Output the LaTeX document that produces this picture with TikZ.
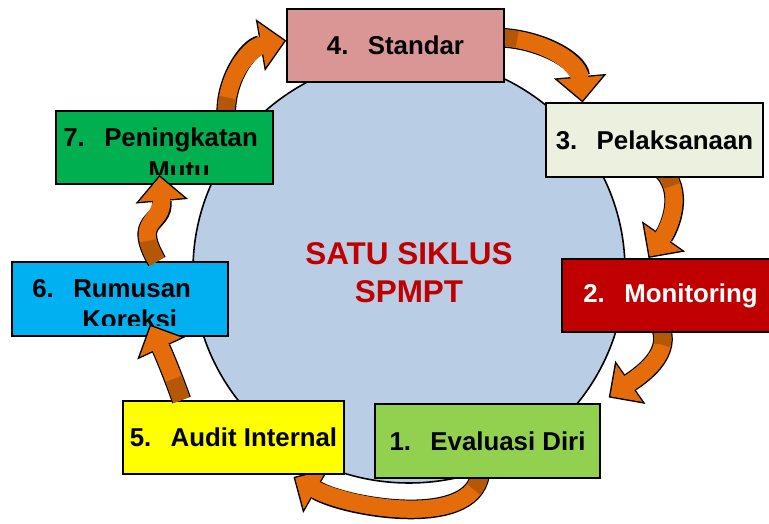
\documentclass[tikz,border=0pt]{standalone}
\usepackage{fontspec}
\setmainfont{Liberation Sans}
\usetikzlibrary{arrows.meta,calc}
\definecolor{ringblue}{HTML}{B9CDE5}
\definecolor{arrorange}{HTML}{E46C0A}
\definecolor{arrdark}{HTML}{B65708}
\definecolor{stdpink}{HTML}{D99694}
\definecolor{pelgreen}{HTML}{EBF1DE}
\definecolor{monred}{HTML}{C00000}
\definecolor{evalgreen}{HTML}{92D050}
\definecolor{audyellow}{HTML}{FFFF00}
\definecolor{rumblue}{HTML}{00B0F0}
\definecolor{pengreen}{HTML}{00B050}
\pgfdeclarelayer{ring}
\pgfdeclarelayer{flows}
\pgfsetlayers{ring,flows,main}
\tikzset{
	boxtext/.style={inner sep=0pt, font=\fontsize{14.7}{18}\selectfont\bfseries},
	stage/.style={boxtext, draw=black, line width=0.9pt, minimum height=1.47cm},
	flow/.style={draw=black, line width=11.2pt, -{Triangle[length=15pt,width=30pt,line width=0pt]},
		postaction={draw=arrorange, line width=9.6pt, -{Triangle[length=13.1pt,width=26.1pt,line width=0pt]}, shorten >=1.13pt},
		postaction={draw=arrorange, line width=9.6pt, arrows=-, shorten >=11.2pt},
		postaction={draw=arrdark, line width=9.6pt, arrows=-, dash pattern=on 0.45cm off 50cm}}
}
\begin{document}
\begin{tikzpicture}[x=0.02cm, y=-0.02cm]
	\useasboundingbox (0,0) rectangle (769,524);
	\begin{pgfonlayer}{ring}
	\draw[fill=ringblue, line width=0.9pt] (409,270) ellipse (216 and 213);
	\end{pgfonlayer}
	\node[text=monred, font=\fontsize{17.9}{21.5}\selectfont\bfseries, align=center] (title) at (409,273) {SATU SIKLUS\\SPMPT};
	\node[stage, fill=stdpink, minimum width=4.34cm] (std) at (395.5,45.5) {4.\hspace{.75em}Standar};
	\node[stage, fill=pelgreen, minimum width=4.34cm] (pel) at (654.5,140) {3.\hspace{.75em}Pelaksanaan};
	\node[stage, fill=monred, text=white, minimum width=4.34cm] (mon) at (670.5,295.5) {2.\hspace{.75em}Monitoring};
	\node[stage, fill=evalgreen, minimum width=4.5cm] (eval) at (487.5,441) {1.\hspace{.75em}Evaluasi Diri};
	\node[stage, fill=audyellow, minimum width=4.42cm] (aud) at (233.5,437.5) {5.\hspace{.75em}Audit Internal};
	\node[stage, fill=rumblue, minimum width=4.32cm] (rum) at (120,299) {};
	\node[stage, fill=pengreen, minimum width=4.34cm] (pen) at (164.5,147.5) {};
	\begin{scope}
		\clip (12,262) rectangle (228,325);
		\node[boxtext, anchor=base west] (rum1) at (32,297) {6.\hspace{.75em}Rumusan};
		\node[boxtext, anchor=base west] (rum2) at (82,328) {Koreksi};
	\end{scope}
	\begin{scope}
		\clip (56,111) rectangle (273,174);
		\node[boxtext, anchor=base west] (pen1) at (63,147) {7.\hspace{.75em}Peningkatan};
		\node[boxtext, anchor=base west] (pen2) at (148,179) {Mutu};
	\end{scope}
	\begin{pgfonlayer}{flows}
	\draw[flow] ($(eval.south)+(-7,-10)$) to[out=-90,in=-30,looseness=0.85] ($(aud.south)+(60,2)$);
	\draw[flow] ($(pen.north)+(62,10)$) to[out=95,in=190] ($(std.west)+(0,-5)$);
	\draw[flow] ($(std.east)+(-10,-8)$) to[out=0,in=95] ($(pel.north)+(-72,0)$);
	\draw[flow] ($(pel.south)+(5,-10)$) to[out=-40,in=55] ($(mon.north)+(-22,0)$);
	\draw[flow] ($(mon.south)+(-12,-10)$) to[out=-60,in=35] ($(eval.north east)+(8,-6)$);
	\end{pgfonlayer}
	\draw[flow] ($(aud.north)+(-52,0)$) to[out=110,in=-65] ($(rum.south)+(30,-12)$);
	\draw[flow] ($(rum.north)+(37,0)$) to[out=120,in=-85,looseness=1.5] ($(pen.south)+(-5,-10)$);
\end{tikzpicture}
\end{document}
